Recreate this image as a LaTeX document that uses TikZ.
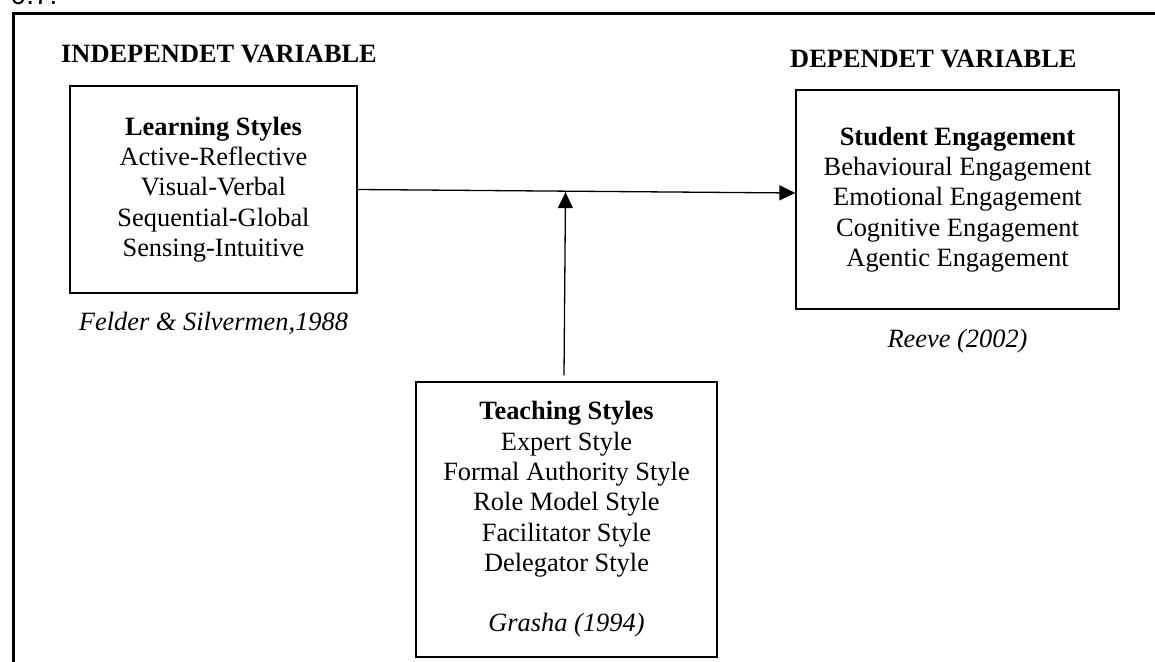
\documentclass[tikz,border=0pt]{standalone}
\usepackage{fontspec}
\setmainfont{Liberation Serif}
\newfontfamily\headsans{Liberation Sans}
\usetikzlibrary{arrows.meta,calc}
\begin{document}
\begin{tikzpicture}[x=1pt,y=-1pt,
  txt/.style={font=\fontsize{26.4}{30.3}\selectfont, align=center},
  box/.style={draw, line width=1.3pt, inner sep=0pt, txt},
  head/.style={font=\fontsize{26.4}{30}\selectfont\bfseries, inner sep=0pt, anchor=base west},
  cite/.style={font=\fontsize{26.4}{30}\selectfont\itshape, inner sep=0pt, anchor=base},
  arr/.style={line width=1.3pt, -{Triangle[length=16pt,width=15pt]}}]
\useasboundingbox (0,0) rectangle (1155,661);
% outer frame (cut by the page)
\draw[line width=3pt] (13.5,700) -- (13.5,13.5) -- (1200,13.5);
\node[font=\headsans\fontsize{28}{30}\selectfont, inner sep=0pt, anchor=base west] (fig) at (10.5,4.5) {0.7.};
% headings
\node[head] (indep) at (61,63) {INDEPENDET VARIABLE};
\node[head] (dep) at (790,67) {DEPENDET VARIABLE};
% boxes
\node[box, minimum width=287pt, minimum height=207pt] (learn) at (213.5,189.5)
  {\textbf{Learning Styles}\\Active-Reflective\\Visual-Verbal\\Sequential-Global\\Sensing-Intuitive};
\node[box, minimum width=323pt, minimum height=219pt] (stud) at (957.5,199.5)
  {\textbf{Student Engagement}\\Behavioural Engagement\\Emotional Engagement\\Cognitive Engagement\\Agentic Engagement};
\node[box, minimum width=301pt, minimum height=275pt] (teach) at (566.5,519.5)
  {\textbf{Teaching Styles}\\Expert Style\\Formal Authority Style\\Role Model Style\\Facilitator Style\\Delegator Style\\[30.3pt]\textit{Grasha (1994)}};
% citations
\node[cite] (felder) at (213.5,330) {Felder \& Silvermen,1988};
\node[cite] (reeve) at (957.5,347.5) {Reeve (2002)};
% connectors
\draw[arr] (learn.east) -- ([yshift=6.5pt]stud.west);
\coordinate (meet) at ($(learn.east)!(teach.north)!([yshift=6.5pt]stud.west)$);
\draw[arr] ([xshift=-2.5pt,yshift=6pt]teach.north) -- ([xshift=-2.5pt,yshift=-1pt]meet);
\end{tikzpicture}
\end{document}
